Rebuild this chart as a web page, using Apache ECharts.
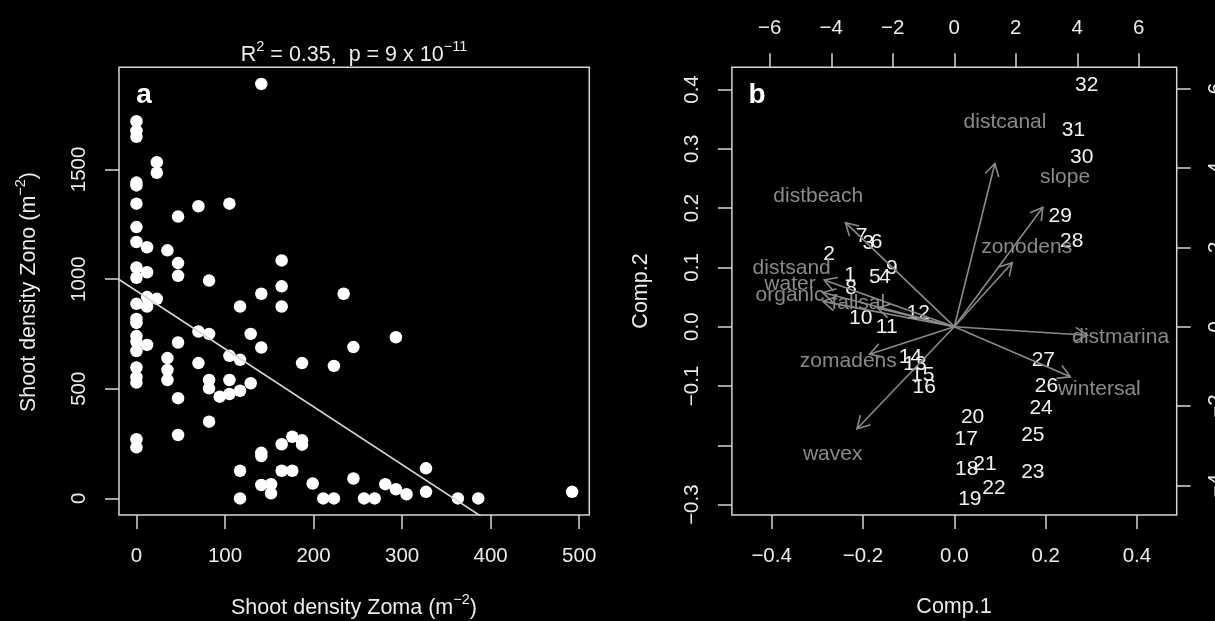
<!DOCTYPE html>
<html>
<head>
<meta charset="utf-8">
<script src="https://cdn.jsdelivr.net/npm/echarts@6/dist/echarts.min.js"></script>
<style>
html,body{margin:0;padding:0;background:#000;}
#chart{width:1215px;height:621px;}
</style>
</head>
<body>
<div id="chart"></div>
<script>
// panel a : shoot density of Zostera marina vs Zostera noltii (m-2)
var zomaDensity = [
  0,0,0,0,0,0,0,0,0,0,0,0,0,0,0,0,0,0,0,0,0,
  12,12,12,12,12,
  23,23,23,
  35,35,35,35,
  47,47,47,47,47,47,
  70,70,70,
  82,82,82,82,82,
  94,
  105,105,105,105,
  117,117,117,117,117,
  129,129,
  141,141,141,141,141,141,
  152,152,
  164,164,164,164,164,
  176,176,
  187,187,187,
  199,211,
  223,223,
  234,
  245,245,
  257,269,281,
  293,293,
  305,
  327,327,
  363,386,492
];
var zonoDensity = [
  1720,1675,1649,1440,1427,1344,1237,1169,1053,1006,887,818,800,740,715,672,597,553,528,270,233,
  1145,1031,918,875,700,
  1533,1485,910,
  1131,640,586,540,
  1285,1073,1015,711,457,289,
  1332,761,617,
  993,750,540,502,350,
  464,
  1344,650,540,476,
  875,632,491,126,0,
  750,525,
  1890,933,688,208,193,61,
  65,23,
  1085,967,875,247,126,
  281,126,
  617,265,245,
  68,0,
  604,0,
  933,
  690,91,
  0,0,65,
  735,42,
  19,
  137,30,
  0,0,30
];
var fitIntercept = 946;
var fitSlope = -2.64;

// panel b : PCA biplot, site scores (Comp.1 / Comp.2)
var siteNames = ['1','2','3','4','5','6','7','8','9','10','11','12','13','14','15','16',
  '17','18','19','20','21','22','23','24','25','26','27','28','29','30','31','32'];
var comp1 = [-0.228,-0.274,-0.188,-0.152,-0.174,-0.170,-0.203,-0.226,-0.137,-0.205,-0.148,-0.079,-0.086,-0.096,-0.069,-0.066,
  0.026,0.027,0.034,0.040,0.067,0.087,0.172,0.190,0.172,0.202,0.195,0.257,0.232,0.279,0.261,0.290];
var comp2 = [0.087,0.123,0.141,0.083,0.083,0.142,0.153,0.065,0.098,0.014,-0.001,0.023,-0.063,-0.052,-0.081,-0.102,
  -0.189,-0.240,-0.291,-0.153,-0.232,-0.273,-0.245,-0.138,-0.183,-0.101,-0.056,0.145,0.187,0.286,0.332,0.408];

// variable loadings (top / right axis units)
var varNames = ['distcanal','slope','zonodens','distmarina','wintersal','distbeach',
  'distsand','water','organic','fallsal','zomadens','wavex'];
var loadX = [1.649,3.600,2.354,5.410,4.716,-4.423,-5.288,-5.343,-5.343,-3.122,-3.447,-3.954];
var loadY = [5.139,3.763,2.015,-0.267,-1.577,3.275,1.471,1.076,0.798,0.589,-0.864,-3.214];

var ticksAx = [0,100,200,300,400,500];
var ticksAy = [0,500,1000,1500];
var ticksComp1 = [-0.4,-0.2,0,0.2,0.4];
var ticksComp2 = [-0.3,-0.2,-0.1,0,0.1,0.2,0.3,0.4];
var labelsComp2 = [-0.3,-0.1,0,0.1,0.2,0.3,0.4];
var ticksTop = [-6,-4,-2,0,2,4,6];
var ticksRight = [-4,-2,0,2,4,6];

var FONT = '"Liberation Sans", Arial, Helvetica, sans-serif';
var lineCol = '#d6d6d6';
var txtCol = '#ececec';
var varCol = '#8a8a8a';
var arrowScale = 0.8;   // biplot draws arrows to 0.8 of the loading

function minus(s){ return String(s).replace('-', '\u2212'); }

function axis(o){
  return {
    type:'value', gridIndex:o.grid, min:o.min, max:o.max, position:o.pos,
    axisLine:{show:false, onZero:false},
    splitLine:{show:false},
    axisTick:{show:true, inside:false, length:14, customValues:o.ticks, lineStyle:{color:lineCol, width:1.5}},
    axisLabel:{show:true, customValues:o.labels || o.ticks, color:txtCol, fontSize:20.5, fontFamily:FONT,
      margin:o.margin, rotate:o.rotate || 0, formatter:o.fmt || function(v){ return minus(v); }}
  };
}

// superscript rich styles
var rich = {
  n:{fontSize:21.5, fontFamily:FONT, fill:txtCol, verticalAlign:'bottom', lineHeight:27},
  s:{fontSize:14.5, fontFamily:FONT, fill:txtCol, verticalAlign:'top', lineHeight:14}
};

var scatterData = zomaDensity.map(function(x,i){ return [x, zonoDensity[i]]; });
var xMinA = -19.7, xMaxA = 511.4;
var fitData = [[xMinA, fitIntercept + fitSlope*xMinA], [xMaxA, fitIntercept + fitSlope*xMaxA]];
var siteData = comp1.map(function(x,i){ return [x, comp2[i]]; });
var varData = loadX.map(function(x,i){ return [x, loadY[i]]; });

var chart = echarts.init(document.getElementById('chart'));
chart.setOption({
  backgroundColor:'#000',
  animation:false,
  grid:[
    {left:119, top:67.3, width:470.3, height:447.7, show:true, borderColor:lineCol, borderWidth:1.5,
      backgroundColor:'transparent', outerBoundsMode:'none'},
    {left:731.9, top:67.3, width:444.8, height:447.7, show:true, borderColor:lineCol, borderWidth:1.5,
      backgroundColor:'transparent', outerBoundsMode:'none'}
  ],
  xAxis:[
    axis({grid:0, min:xMinA, max:xMaxA, pos:'bottom', ticks:ticksAx, margin:31}),
    axis({grid:1, min:-0.487, max:0.487, pos:'bottom', ticks:ticksComp1, margin:31,
      fmt:function(v){ return minus(v.toFixed(1)); }}),
    axis({grid:1, min:-7.232, max:7.232, pos:'top', ticks:ticksTop, margin:28})
  ],
  yAxis:[
    axis({grid:0, min:-75.6, max:1965.6, pos:'left', ticks:ticksAy, margin:29.5, rotate:90}),
    axis({grid:1, min:-0.3175, max:0.4374, pos:'left', ticks:ticksComp2, labels:labelsComp2, margin:29.5, rotate:90,
      fmt:function(v){ return minus(v.toFixed(1)); }}),
    axis({grid:1, min:-4.743, max:6.534, pos:'right', ticks:ticksRight, margin:29, rotate:90})
  ],
  series:[
    {
      type:'scatter', xAxisIndex:0, yAxisIndex:0, data:scatterData,
      symbol:'circle', symbolSize:12.5, itemStyle:{color:'#ffffff', opacity:1}, silent:true
    },
    {
      type:'line', xAxisIndex:0, yAxisIndex:0, data:fitData, showSymbol:false, clip:true,
      lineStyle:{color:lineCol, width:1.6}, silent:true
    },
    {
      type:'custom', xAxisIndex:1, yAxisIndex:1, data:siteData, silent:true,
      renderItem:function(params, api){
        var p = api.coord([api.value(0), api.value(1)]);
        return {type:'text', x:p[0], y:p[1], style:{text:siteNames[params.dataIndex], fill:'#f2f2f2',
          font:'21px ' + FONT, align:'center', verticalAlign:'middle'}};
      }
    },
    {
      type:'custom', xAxisIndex:2, yAxisIndex:2, data:varData, silent:true,
      renderItem:function(params, api){
        var p = api.coord([api.value(0), api.value(1)]);
        return {type:'text', x:p[0], y:p[1], style:{text:varNames[params.dataIndex], fill:varCol,
          font:'21px ' + FONT, align:'center', verticalAlign:'middle'}};
      }
    },
    {
      type:'custom', xAxisIndex:2, yAxisIndex:2, data:varData, silent:true,
      renderItem:function(params, api){
        var o = api.coord([0, 0]);
        var t = api.coord([api.value(0)*arrowScale, api.value(1)*arrowScale]);
        var ang = Math.atan2(t[1]-o[1], t[0]-o[0]);
        var hl = 14, ha = Math.PI/6;
        var h1 = [t[0] - hl*Math.cos(ang-ha), t[1] - hl*Math.sin(ang-ha)];
        var h2 = [t[0] - hl*Math.cos(ang+ha), t[1] - hl*Math.sin(ang+ha)];
        var st = {stroke:varCol, lineWidth:1.6, fill:null};
        return {type:'group', children:[
          {type:'line', shape:{x1:o[0], y1:o[1], x2:t[0], y2:t[1]}, style:st},
          {type:'polyline', shape:{points:[h1, t, h2]}, style:st}
        ]};
      }
    }
  ],
  graphic:[
    {type:'text', x:354, y:53, style:{
      text:'{n|R}{s|2}{n| = 0.35,  p = 9 x 10}{s|\u221211}',
      align:'center', verticalAlign:'middle', fill:txtCol, rich:rich}},
    {type:'text', x:144, y:95, style:{text:'a', font:'bold 28px ' + FONT, fill:'#ffffff', align:'center', verticalAlign:'middle'}},
    {type:'text', x:757, y:95, style:{text:'b', font:'bold 28px ' + FONT, fill:'#ffffff', align:'center', verticalAlign:'middle'}},
    {type:'text', x:354, y:606, style:{
      text:'{n|Shoot density Zoma (m}{s|\u22122}{n|)}',
      align:'center', verticalAlign:'middle', fill:txtCol, rich:rich}},
    {type:'text', x:954, y:607, style:{text:'Comp.1', font:'21.5px ' + FONT, fill:txtCol, align:'center', verticalAlign:'middle'}},
    {type:'text', x:27, y:292, rotation:Math.PI/2, style:{
      text:'{n|Shoot density Zono (m}{s|\u22122}{n|)}',
      align:'center', verticalAlign:'middle', fill:txtCol, rich:rich}},
    {type:'text', x:641, y:291, rotation:Math.PI/2, style:{text:'Comp.2', font:'21.5px ' + FONT, fill:txtCol, align:'center', verticalAlign:'middle'}}
  ]
});
</script>
</body>
</html>
